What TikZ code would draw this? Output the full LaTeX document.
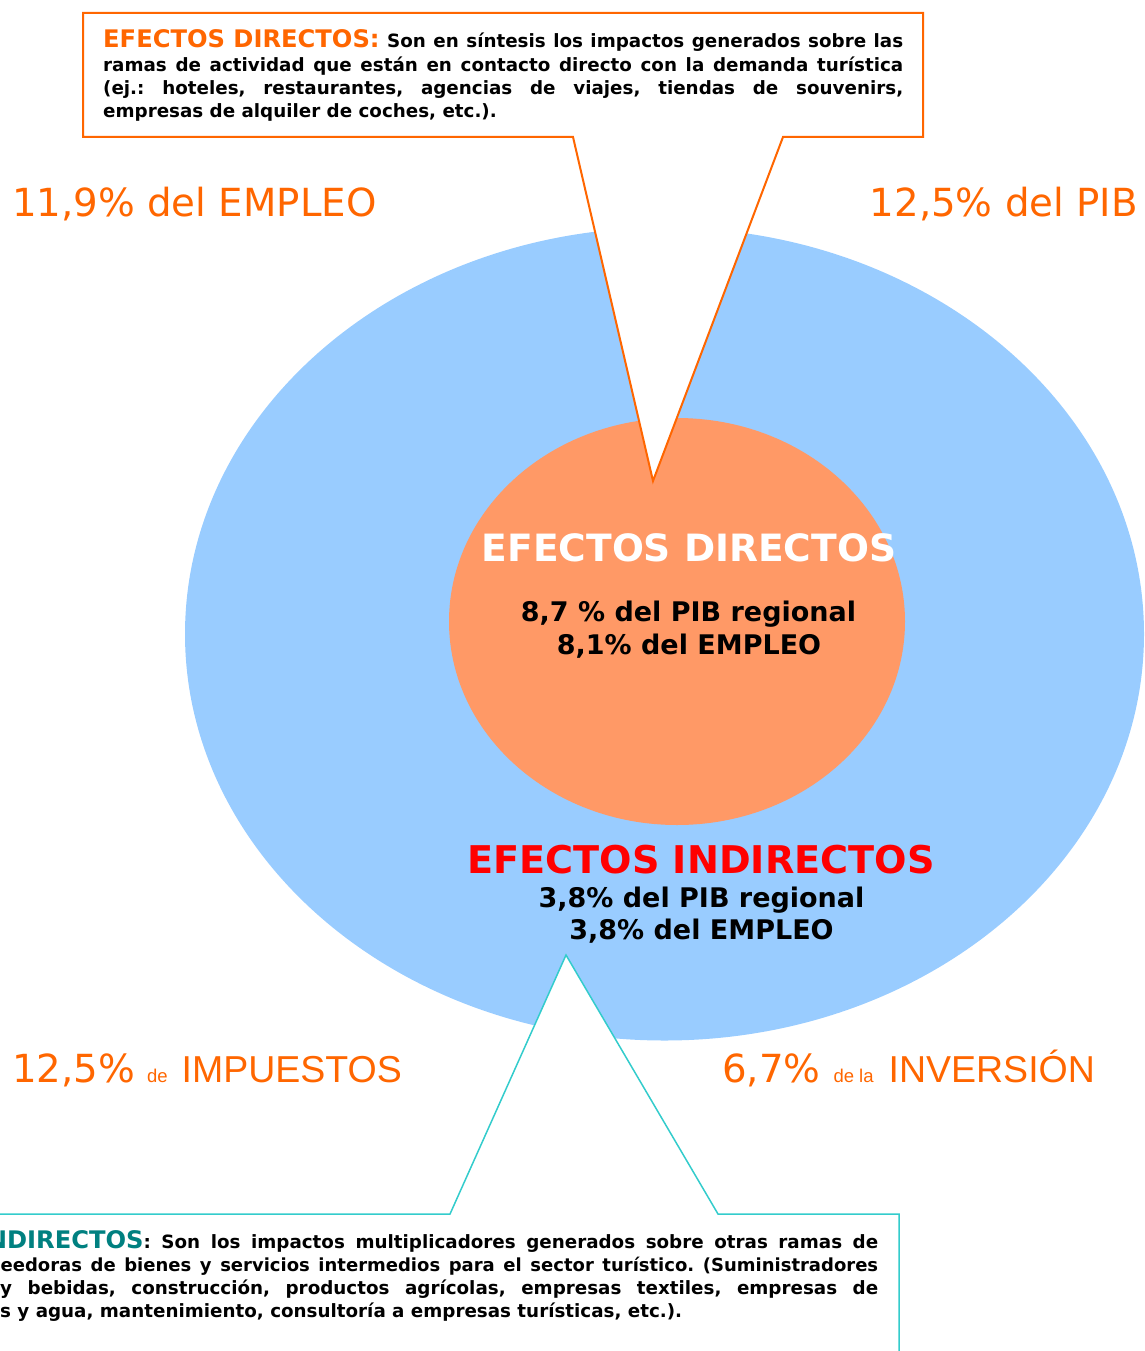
\documentclass[tikz,border=0pt]{standalone}
\usepackage{fontspec}
\setmainfont{DejaVu Sans}
\newfontfamily\narrowfont{Liberation Sans}
\definecolor{orangeT}{HTML}{FF6600}
\definecolor{blueE}{HTML}{99CCFF}
\definecolor{orangeC}{HTML}{FF9966}
\definecolor{redT}{HTML}{FF0000}
\definecolor{tealT}{HTML}{008080}
\definecolor{tealB}{HTML}{33CCCC}
\newcommand\headA{\fontsize{24.2}{28}\selectfont}
\newcommand\smallde{\narrowfont\fontsize{18.5}{20}\selectfont}
\newcommand\narrowbig{\narrowfont\fontsize{37.5}{44}\selectfont}
\tikzset{
  bigl/.style={font=\fontsize{38.7}{44}\selectfont, text=orangeT, inner sep=0pt},
  bodyl/.style={font=\frenchspacing\bfseries\fontsize{18.3}{22}\selectfont, inner sep=0pt, anchor=base west},
  circt/.style={font=\bfseries\fontsize{37.6}{44}\selectfont, inner sep=0pt, anchor=base},
  circn/.style={font=\bfseries\fontsize{27}{32}\selectfont, inner sep=0pt, anchor=base},
  calloutA/.style={fill=white, draw=orangeT, line width=2pt},
  calloutB/.style={fill=white, draw=tealB, line width=1.5pt},
}
\begin{document}
\begin{tikzpicture}[x=1pt,y=-1pt]
\useasboundingbox (0,0) rectangle (1144,1351);
\clip (0,0) rectangle (1144,1351);
% ellipses
\fill[blueE] (664.5,634) ellipse [x radius=479.5, y radius=406.5];
\fill[orangeC] (677,621.5) ellipse [x radius=228, y radius=203.5];
% callouts
\filldraw[calloutA] (83,13) -- (923,13) -- (923,137) -- (783,137) -- (653,481) -- (573,137) -- (83,137) -- cycle;
\filldraw[calloutB] (-10,1214) -- (450,1214) -- (566,955) -- (718,1214) -- (899,1214) -- (899,1370) -- (-10,1370) -- cycle;
% top callout text
\node[bodyl] (t1) at (103,48) {\makebox[800pt][s]{\mbox{\headA\color{orangeT}EFECTOS DIRECTOS:} Son en síntesis los impactos generados sobre las}};
\node[bodyl] (t2) at (103,71.5) {\makebox[800pt][s]{ramas de actividad que están en contacto directo con la demanda turística}};
\node[bodyl] (t3) at (103,94.5) {\makebox[800pt][s]{(ej.: hoteles, restaurantes, agencias de viajes, tiendas de souvenirs,}};
\node[bodyl] (t4) at (103,117.5) {empresas de alquiler de coches, etc.).};
% bottom callout text
\node[bodyl] (b1) at (-13.4,1248) {\makebox[891.4pt][s]{\mbox{\headA\color{tealT}NDIRECTOS}: Son los impactos multiplicadores generados sobre otras ramas de}};
\node[bodyl, font=\frenchspacing\bfseries\fontsize{18}{22}\selectfont] (b2) at (0.5,1271) {\makebox[877.5pt][s]{eedoras de bienes y servicios intermedios para el sector turístico. (Suministradores}};
\node[bodyl] (b3) at (0,1294.5) {\makebox[878pt][s]{y bebidas, construcción, productos agrícolas, empresas textiles, empresas de}};
\node[bodyl] (b4) at (0,1317.5) {s y agua, mantenimiento, consultoría a empresas turísticas, etc.).};
% corner labels
\node[bigl, anchor=base west] (empleo) at (12,216) {11,9\% del EMPLEO};
\node[bigl, anchor=base east] (pib) at (1138,216) {12,5\% del PIB};
\node[bigl, anchor=base west] (imp) at (12,1082) {12,5\%\hspace{12pt}{\smallde de}\hspace{14pt}{\narrowbig IMPUESTOS}};
\node[bigl, anchor=base west] (inv) at (722,1082) {6,7\%\hspace{13pt}{\smallde de la}\hspace{15pt}{\narrowbig INVERSIÓN}};
% circle texts
\node[circt, text=white] (dirT) at (689,561) {EFECTOS DIRECTOS};
\node[circn] (dir1) at (688.5,621) {8,7 \% del PIB regional};
\node[circn] (dir2) at (689,654) {8,1\% del EMPLEO};
\node[circt, text=redT, font=\bfseries\fontsize{38.2}{44}\selectfont] (indT) at (701,873) {EFECTOS INDIRECTOS};
\node[circn] (ind1) at (701.5,907) {3,8\% del PIB regional};
\node[circn] (ind2) at (701.5,939) {3,8\% del EMPLEO};
\end{tikzpicture}
\end{document}
